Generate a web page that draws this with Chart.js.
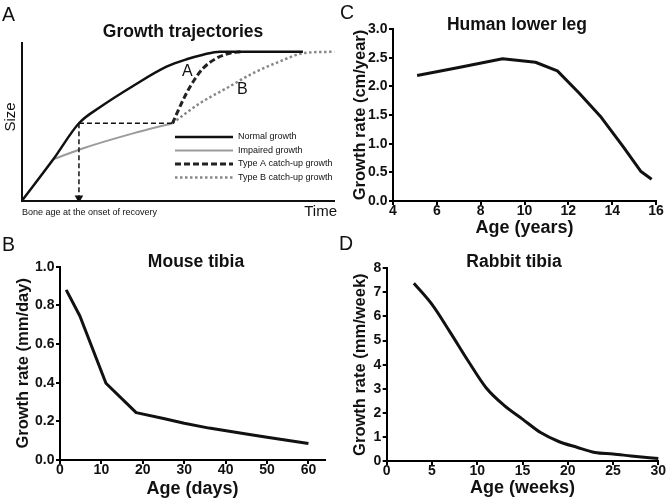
<!DOCTYPE html>
<html>
<head>
<meta charset="utf-8">
<script src="https://cdn.jsdelivr.net/npm/chart.js@4.4.1/dist/chart.umd.min.js"></script>
<style>
	body { margin: 0; width: 667px; height: 504px; position: relative; background: #fff; overflow: hidden; font-family: "Liberation Sans", Arial, sans-serif; color: #111; }
	canvas { position: absolute; }
	.lbl { position: absolute; white-space: nowrap; line-height: 1; }
	.letter { font-size: 19.5px; }
	.ttl { font-size: 17.5px; font-weight: bold; transform: translateX(-50%); }
</style>
</head>
<body>
<canvas id="chartA" width="340" height="230" style="left:0;top:0"></canvas>
<canvas id="chartB" width="340" height="254" style="left:0;top:250px"></canvas>
<canvas id="chartC" width="337" height="250" style="left:330px;top:0"></canvas>
<canvas id="chartD" width="337" height="254" style="left:330px;top:250px"></canvas>

<div class="lbl letter" style="left:2px;top:5px">A</div>
<div class="lbl letter" style="left:2px;top:235px">B</div>
<div class="lbl letter" style="left:340px;top:2.5px">C</div>
<div class="lbl letter" style="left:339px;top:234px">D</div>

<div class="lbl ttl" style="left:183px;top:23px">Growth trajectories</div>
<div class="lbl ttl" style="left:517px;top:16px">Human lower leg</div>
<div class="lbl ttl" style="left:196px;top:253px">Mouse tibia</div>
<div class="lbl ttl" style="left:514px;top:253px">Rabbit tibia</div>

<div class="lbl" style="left:8.5px;top:117px;font-size:15px;transform:translate(-50%,-50%) rotate(-90deg)">Size</div>
<div class="lbl" style="right:330px;top:203px;font-size:15px">Time</div>
<div class="lbl" style="left:22px;top:208px;font-size:9px">Bone age at the onset of recovery</div>
<div class="lbl" style="left:182px;top:63px;font-size:16px">A</div>
<div class="lbl" style="left:237px;top:81px;font-size:16px">B</div>

<script>
// panel A, schematic trajectories (arbitrary units 0-100)
const normalX = [0, 10.1, 18.3, 25.0, 35.6, 46.3, 52.7, 58.0, 63.3, 89.9];
const normalY = [0, 26.4, 49.2, 59.3, 72.8, 85.0, 89.7, 92.6, 94.5, 94.5];
const impairedX = [10.1, 19.7, 35.6, 48.2];
const impairedY = [26.4, 33.4, 42.8, 49.2];
const typeAX = [48.2, 52.1, 54.8, 58.0, 62.2, 66.5, 70.0];
const typeAY = [49.2, 66.0, 75.5, 84.0, 90.3, 93.5, 94.5];
const typeBX = [48.2, 56.9, 65.4, 73.9, 82.4, 89.9, 100];
const typeBY = [49.2, 61.8, 71.3, 80.8, 88.2, 93.5, 94.5];
const onsetX = [18.3, 48.2];
const onsetY = [49.2, 49.2];
const arrowX = [18.3, 18.3];
const arrowY = [49.2, 1.9];

// panel B, mouse tibia
const mouseAge = [1.5, 4.8, 11.1, 18.4, 25, 30, 36, 45, 50, 60];
const mouseRate = [0.88, 0.745, 0.397, 0.245, 0.215, 0.19, 0.165, 0.135, 0.118, 0.085];
const mouseAgeTicks = [0, 10, 20, 30, 40, 50, 60];
const mouseRateTicks = [0, 0.2, 0.4, 0.6, 0.8, 1.0];

// panel C, human lower leg
const humanAge = [5.1, 7, 9, 10.5, 11.5, 12.5, 13.5, 14.5, 15.3, 15.8];
const humanRate = [2.19, 2.33, 2.48, 2.42, 2.27, 1.88, 1.46, 0.95, 0.52, 0.38];
const humanAgeTicks = [4, 6, 8, 10, 12, 14, 16];
const humanRateTicks = [0, 0.5, 1.0, 1.5, 2.0, 2.5, 3.0];

// panel D, rabbit tibia
const rabbitAge = [3, 5, 7, 9, 11, 13, 15, 17, 19, 21, 23, 25, 27, 30];
const rabbitRate = [7.38, 6.5, 5.35, 4.15, 3.03, 2.3, 1.74, 1.18, 0.81, 0.57, 0.35, 0.29, 0.21, 0.1];
const rabbitAgeTicks = [0, 5, 10, 15, 20, 25, 30];
const rabbitRateTicks = [0, 1, 2, 3, 4, 5, 6, 7, 8];

const FONT = "'Liberation Sans', Arial, sans-serif";

function pts(xs, ys) {
	return xs.map((x, i) => ({x: x, y: ys[i]}));
}

function axisStyle() {
	return {
		grid: {display: true, drawOnChartArea: false, drawTicks: true, tickLength: 4, color: "#000", lineWidth: 2},
		border: {display: true, color: "#000", width: 2}
	};
}

// legend drawn inside panel A with the same strokes as the datasets
const trajLegend = {
	id: "trajLegend",
	afterDatasetsDraw(chart) {
		const ctx = chart.ctx;
		const items = chart.data.datasets.filter(d => d.label);
		ctx.save();
		items.forEach((d, i) => {
			const y = 137 + i * 13.5;
			ctx.beginPath();
			ctx.setLineDash(d.borderDash || []);
			ctx.lineWidth = d.borderWidth;
			ctx.strokeStyle = d.borderColor;
			ctx.moveTo(175, y);
			ctx.lineTo(233, y);
			ctx.stroke();
			ctx.setLineDash([]);
			ctx.fillStyle = "#111";
			ctx.font = "9px " + FONT;
			ctx.textBaseline = "middle";
			ctx.fillText(d.label, 238, y);
		});
		ctx.restore();
	}
};

new Chart(document.getElementById("chartA"), {
	type: "line",
	data: {
		datasets: [
			{label: "Normal growth", data: pts(normalX, normalY), borderColor: "#111", borderWidth: 2.5, cubicInterpolationMode: "monotone", order: 0},
			{label: "Impaired growth", data: pts(impairedX, impairedY), borderColor: "#9b9b9b", borderWidth: 2, cubicInterpolationMode: "monotone", order: 5},
			{label: "Type A catch-up growth", data: pts(typeAX, typeAY), borderColor: "#222", borderWidth: 3, borderDash: [6, 3], cubicInterpolationMode: "monotone", order: 2},
			{label: "Type B catch-up growth", data: pts(typeBX, typeBY), borderColor: "#888", borderWidth: 2.5, borderDash: [2.5, 2.5], cubicInterpolationMode: "monotone", order: 3},
			{data: pts(onsetX, onsetY), borderColor: "#111", borderWidth: 1.5, borderDash: [5, 3], order: 1},
			{data: pts(arrowX, arrowY), borderColor: "#111", backgroundColor: "#111", borderWidth: 1.5, borderDash: [5, 3],
				pointRadius: [0, 3.5], pointStyle: "triangle", rotation: 180, order: 1}
		]
	},
	options: {
		responsive: false,
		animation: false,
		layout: {padding: {left: 21.7, top: 43, right: 5, bottom: 29}},
		elements: {point: {radius: 0}},
		plugins: {legend: {display: false}, tooltip: {enabled: false}},
		scales: {
			x: {type: "linear", min: 0, max: 100, ticks: {display: false}, grid: {display: false},
				border: {display: true, color: "#111", width: 2}, afterFit: s => { s.height = 0; }},
			y: {min: 0, max: 100, ticks: {display: false}, grid: {display: false},
				border: {display: true, color: "#111", width: 2}, afterFit: s => { s.width = 0; }}
		}
	},
	plugins: [trajLegend]
});

function rateChart(id, c) {
	const xAxis = Object.assign(axisStyle(), {
		type: "linear", min: c.xMin, max: c.xMax,
		ticks: {autoSkip: false, maxRotation: 0, padding: -2, color: "#111",
			font: {family: FONT, size: 14, weight: "bold"}},
		afterBuildTicks: s => { s.ticks = c.xTicks.map(v => ({value: v})); },
		afterFit: s => { s.height = c.xH; },
		title: {display: true, text: c.xTitle, color: "#111", padding: {top: 0, bottom: c.xTitlePad},
			font: {family: FONT, size: 18, weight: "bold", lineHeight: 1.2}}
	});
	const yAxis = Object.assign(axisStyle(), {
		min: 0, max: c.yTicks[c.yTicks.length - 1],
		ticks: {padding: 1.5, color: "#111", font: {family: FONT, size: 14, weight: "bold"},
			callback: v => v.toFixed(c.yDec)},
		afterBuildTicks: s => { s.ticks = c.yTicks.map(v => ({value: v})); },
		afterFit: s => { s.width = c.yW; },
		title: {display: true, text: c.yTitle, color: "#111", padding: {top: c.yTitlePad, bottom: 0},
			font: {family: FONT, size: 16.5, weight: "bold", lineHeight: 1.2}}
	});
	return new Chart(document.getElementById(id), {
		type: "line",
		data: {
			datasets: [{data: pts(c.xs, c.ys), borderColor: "#111", borderWidth: 3, pointRadius: 0,
				borderJoinStyle: "round", cubicInterpolationMode: c.smooth ? "monotone" : "default", clip: false}]
		},
		options: {
			responsive: false,
			animation: false,
			layout: {padding: c.pad},
			plugins: {legend: {display: false}, tooltip: {enabled: false}},
			scales: {x: xAxis, y: yAxis}
		}
	});
}

rateChart("chartB", {
	xs: mouseAge, ys: mouseRate, xTicks: mouseAgeTicks, yTicks: mouseRateTicks,
	xMin: 0, xMax: 64, xTitle: "Age (days)", xH: 44, xTitlePad: 4,
	yDec: 1, yTitle: "Growth rate (mm/day)", yW: 60, yTitlePad: 14,
	pad: {left: 0, top: 16.7, right: 15, bottom: 0}
});

rateChart("chartC", {
	xs: humanAge, ys: humanRate, xTicks: humanAgeTicks, yTicks: humanRateTicks,
	xMin: 4, xMax: 16, xTitle: "Age (years)", xH: 49, xTitlePad: 11.5,
	yDec: 1, yTitle: "Growth rate (cm/year)", yW: 63, yTitlePad: 20.5,
	pad: {left: 0, top: 29, right: 11, bottom: 0}
});

rateChart("chartD", {
	xs: rabbitAge, ys: rabbitRate, xTicks: rabbitAgeTicks, yTicks: rabbitRateTicks, smooth: true,
	xMin: 0, xMax: 30, xTitle: "Age (weeks)", xH: 43, xTitlePad: 5,
	yDec: 0, yTitle: "Growth rate (mm/week)", yW: 56.7, yTitlePad: 20.4,
	pad: {left: 0, top: 18.3, right: 8.7, bottom: 0}
});
</script>
</body>
</html>
